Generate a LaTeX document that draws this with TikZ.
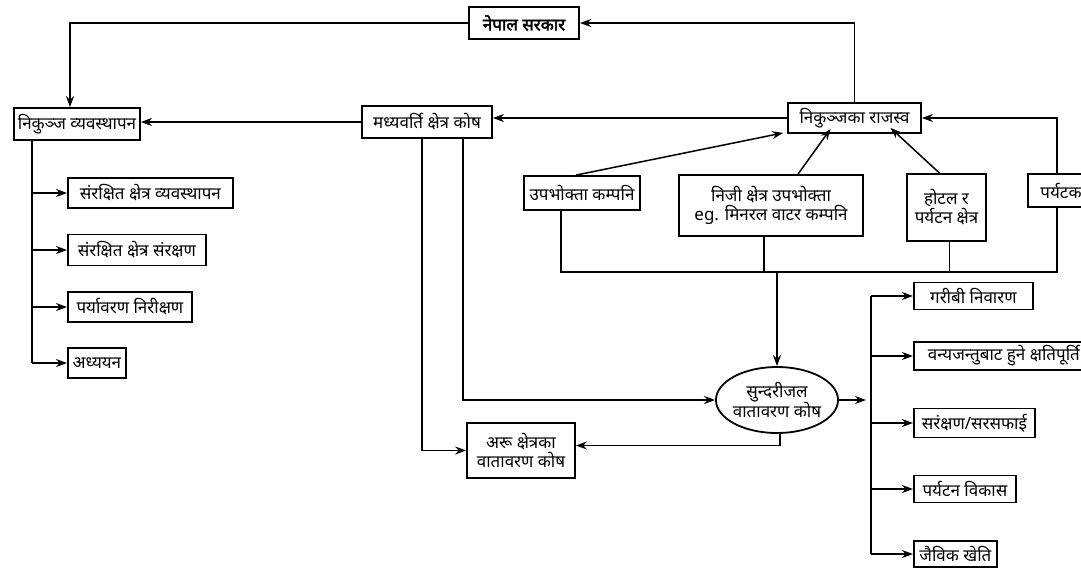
\documentclass[tikz,border=0pt]{standalone}
\usepackage{fontspec}
\setmainfont[Script=Devanagari]{Noto Sans}
\newfontfamily\nepbold[Script=Devanagari, FakeBold=2.5]{Noto Sans}
\usetikzlibrary{arrows.meta,shapes.geometric}
\begin{document}
\begin{tikzpicture}[x=1pt,y=-1pt,
  box/.style={draw, line width=1.8pt, inner sep=1pt, align=center, font=\fontsize{17}{19}\selectfont},
  conn/.style={line width=1.5pt},
  arr/.style={conn, -{Stealth[length=11pt,width=8pt]}}]
\useasboundingbox (0,0) rectangle (1081,573);

% top level
\node[box, line width=2pt, font=\fontsize{17}{19}\nepbold, minimum width=110pt, minimum height=32pt] (nepal) at (524,23) {नेपाल सरकार};
\node[box, minimum width=126pt, minimum height=32pt] (nikm) at (77,124) {निकुञ्ज व्यवस्थापन};
\node[box, minimum width=130pt, minimum height=32pt] (madh) at (427,122) {मध्यवर्ति क्षेत्र कोष};
\node[box, minimum width=133pt, minimum height=30pt] (raj) at (854.5,118) {निकुञ्जका राजस्व};

% sources
\node[box, minimum width=116pt, minimum height=34pt] (upa) at (582,193) {उपभोक्ता कम्पनि};
\node[box, minimum width=184pt, minimum height=61pt] (niji) at (771,205.5) {निजी क्षेत्र उपभोक्ता\\eg. मिनरल वाटर कम्पनि};
\node[box, minimum width=79pt, minimum height=67pt] (hotel) at (946.5,207.5) {होटल र\\पर्यटन क्षेत्र};
\node[box, minimum width=66pt, minimum height=33pt] (pary) at (1061,190.5) {पर्यटक};

% funds
\node[draw, ellipse, line width=1.8pt, inner sep=-1pt, align=center, font=\fontsize{17}{19}\selectfont, minimum width=112pt, minimum height=66pt] (fund) at (777,400) {सुन्दरीजल\\वातावरण कोष};
\node[box, minimum width=108pt, minimum height=55pt] (aru) at (521,450.5) {अरू क्षेत्रका\\वातावरण कोष};

% left list
\node[box, anchor=west, minimum width=165pt, minimum height=30pt] (l1) at (67,193) {संरक्षित क्षेत्र व्यवस्थापन};
\node[box, anchor=west, minimum width=138pt, minimum height=31pt] (l2) at (67,250) {संरक्षित क्षेत्र संरक्षण};
\node[box, anchor=west, minimum width=124pt, minimum height=30pt] (l3) at (67,307) {पर्यावरण निरीक्षण};
\node[box, anchor=west, minimum width=58pt, minimum height=30pt] (l4) at (67,363) {अध्ययन};

% right list
\node[box, anchor=west, minimum width=119pt, minimum height=27pt] (r1) at (913,296) {गरीबी निवारण};
\node[box, anchor=west, minimum width=180pt, minimum height=28pt] (r2) at (913,356) {वन्यजन्तुबाट हुने क्षतिपूर्ति};
\node[box, anchor=west, minimum width=121pt, minimum height=29pt] (r3) at (913,423) {सरंक्षण/सरसफाई};
\node[box, anchor=west, minimum width=102pt, minimum height=27pt] (r4) at (913,489) {पर्यटन विकास};
\node[box, anchor=west, minimum width=83pt, minimum height=26pt] (r5) at (913,554) {जैविक खेति};

% top connectors
\draw[arr] (nepal.west) -| ([xshift=-7]nikm.north);
\draw[arr] (raj.north) |- (nepal.east);
\draw[arr] (raj.west) -- (raj.west -| madh.east);
\draw[arr] (madh.west) -- (madh.west -| nikm.east);

% left tree
\coordinate (lv) at ([xshift=19]nikm.south west);
\draw[conn] (lv) -- (lv |- l4.west);
\foreach \n in {l1,l2,l3,l4} \draw[arr] (lv |- \n.west) -- (\n.west);

% sources to revenue
\draw[arr] ([xshift=-6]upa.north) -- ([xshift=-4,yshift=1]raj.south west);
\draw[arr] ([xshift=27]niji.north) -- ([xshift=-24,yshift=5]raj.south);
\draw[arr] ([xshift=-7]hotel.north) -- ([xshift=36,yshift=6]raj.south);
\draw[arr] ([xshift=-4]pary.north) |- (raj.east);

% sources to Sundarijal fund
\coordinate (j) at (777,272);
\draw[conn] ([xshift=-21]upa.south) -- ([xshift=-21]upa.south |- j) -- ([xshift=-4]pary.south |- j) -- ([xshift=-4]pary.south);
\draw[conn] ([xshift=-7]niji.south) -- ([xshift=-7]niji.south |- j);
\draw[conn] ([xshift=3]hotel.south) -- ([xshift=3]hotel.south |- j);
\draw[arr] (j) -- (fund.north);

% buffer zone fund down
\draw[arr] ([xshift=-5]madh.south) |- (aru.west);
\draw[arr] ([xshift=36]madh.south) |- (fund.west);
\draw[arr] ([xshift=3]fund.south) |- ([yshift=5]aru.east);

% right tree
\coordinate (rv) at (871,400);
\draw[arr] (fund.east) -- ([xshift=-5]rv);
\draw[conn] (rv |- r1.west) -- (rv |- r5.west);
\foreach \n in {r1,r2,r3,r4,r5} \draw[arr] (rv |- \n.west) -- (\n.west);
\end{tikzpicture}
\end{document}
